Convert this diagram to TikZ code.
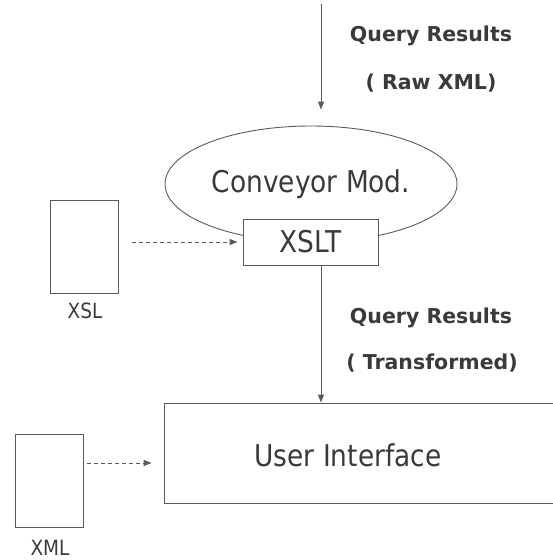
\documentclass[tikz,border=0pt]{standalone}
\usepackage{fontspec}
\setmainfont[FakeStretch=0.88]{DejaVu Sans}
\newfontfamily\lblfont{DejaVu Sans}
\usetikzlibrary{shapes.geometric,arrows.meta}
\definecolor{ink}{HTML}{3A3A3A}
\definecolor{edge}{HTML}{5A5A5A}
\begin{document}
\begin{tikzpicture}[x=1pt,y=-1pt,
  every node/.style={text=ink, inner sep=0pt},
  box/.style={draw=edge, line width=0.9pt, fill=white},
  doc/.style={draw=edge, line width=0.9pt, minimum width=68pt, minimum height=93pt},
  big/.style={font=\fontsize{30}{34}\selectfont},
  small/.style={font=\fontsize{21}{24}\selectfont},
  lbl/.style={font=\lblfont\bfseries\fontsize{20.5}{24}\selectfont},
  flow/.style={draw=edge, line width=0.9pt, -{Triangle[length=8pt,width=6pt]}},
  ref/.style={flow, dashed, dash pattern=on 4pt off 3pt}]
\useasboundingbox (0,0) rectangle (553,560);
\clip (0,0) rectangle (553,560);

% conveyor module with its XSLT stage
\node[draw=edge, line width=0.9pt, ellipse, minimum width=292pt, minimum height=116pt,
      big] (conv) at (311,184) {Conveyor Mod.};
\node[box, minimum width=135pt, minimum height=46pt, big] (xslt) at (310.5,242) {XSLT};

% user interface panel
\node[box, minimum width=406pt, minimum height=100pt] (ui) at (367,453) {};
\node[big] (uitext) at (348,455) {User Interface};

% stylesheet and data documents
\node[doc] (xsl) at (84,246.5) {};
\node[small] (xsllbl) at (85,311) {XSL};
\node[doc] (xml) at (49,480.5) {};
\node[small] (xmllbl) at (50,548) {XML};

% incoming query results
\coordinate (src) at (321,4);
\draw[flow, shorten >=16pt] (src) -- (src |- conv.north);
\node[lbl] (q1) at (431,36) {Query Results};
\node[lbl] (q1b) at (431,83) {( Raw XML)};

% transformed results to the interface
\draw[flow] (xslt.south -| src) -- (ui.north -| src);
\node[lbl] (q2) at (431,318) {Query Results};
\node[lbl] (q2b) at (432,363) {( Transformed)};

% document references
\draw[ref, shorten <=14pt, shorten >=5pt] (xsl.east |- xslt.west) -- (xslt.west);
\draw[ref, shorten <=4pt, shorten >=12pt] (xml.east |- 0,463) -- (ui.west |- 0,463);
\end{tikzpicture}
\end{document}
